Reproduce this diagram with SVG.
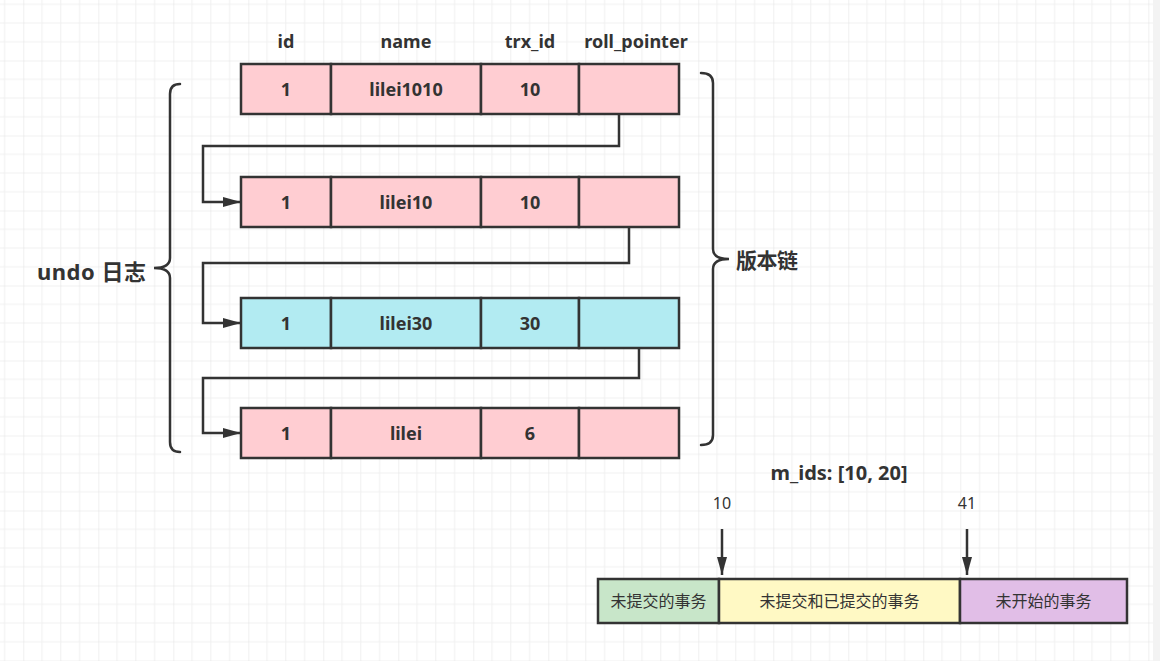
<svg xmlns="http://www.w3.org/2000/svg" width="1160" height="661" viewBox="0 0 1160 661">
<style>
.cell{stroke:#333;stroke-width:2.5}
.pink{fill:#ffcdd2}
.cyan{fill:#b2ebf2}
.t{font-family:"Noto Sans","Noto Sans CJK SC",sans-serif;font-weight:bold;font-size:18px;fill:#333;text-anchor:middle;dominant-baseline:central}
.n{font-family:"Noto Sans","Noto Sans CJK SC",sans-serif;font-size:16px;fill:#333;text-anchor:middle;dominant-baseline:central}
.big{font-family:"Noto Sans","Noto Sans CJK SC",sans-serif;font-weight:bold;font-size:21px;fill:#333;dominant-baseline:central}
.ln{fill:none;stroke:#333;stroke-width:2.5}
.br{fill:none;stroke:#333;stroke-width:2.5;stroke-linecap:round}
</style>
<defs>
<pattern id="grid" patternUnits="userSpaceOnUse" x="23.3" y="60.5" width="75" height="75">
<path d="M18.75,0V75M37.5,0V75M56.25,0V75M0,18.75H75M0,37.5H75M0,56.25H75" stroke="#f0f0f0" stroke-width="1" fill="none"/>
<path d="M0,0V75M0,0H75" stroke="#e2e2e2" stroke-width="1" fill="none"/>
</pattern>
<marker id="arr" markerUnits="userSpaceOnUse" markerWidth="18" markerHeight="10" refX="18" refY="5" orient="auto">
<path d="M0,0L18,5L0,10z" fill="#333"/>
</marker>
</defs>
<rect width="1160" height="661" fill="#fff"/>
<rect width="1160" height="661" fill="url(#grid)"/>
<rect x="1153" y="0" width="7" height="661" fill="#f3f3f3"/>

<g id="headers">
<text class="t" x="286" y="41">id</text>
<text class="t" x="406" y="41">name</text>
<text class="t" x="530" y="41">trx_id</text>
<text class="t" x="636" y="41">roll_pointer</text>
</g>

<g id="row1">
<rect class="cell pink" x="241" y="64" width="90" height="50"/>
<rect class="cell pink" x="331" y="64" width="150" height="50"/>
<rect class="cell pink" x="481" y="64" width="98" height="50"/>
<rect class="cell pink" x="579" y="64" width="100" height="50"/>
<text class="t" x="286" y="89">1</text>
<text class="t" x="406" y="89">lilei1010</text>
<text class="t" x="530" y="89">10</text>
</g>
<g id="row2">
<rect class="cell pink" x="241" y="177" width="90" height="50"/>
<rect class="cell pink" x="331" y="177" width="150" height="50"/>
<rect class="cell pink" x="481" y="177" width="98" height="50"/>
<rect class="cell pink" x="579" y="177" width="100" height="50"/>
<text class="t" x="286" y="202">1</text>
<text class="t" x="406" y="202">lilei10</text>
<text class="t" x="530" y="202">10</text>
</g>
<g id="row3">
<rect class="cell cyan" x="241" y="298" width="90" height="50"/>
<rect class="cell cyan" x="331" y="298" width="150" height="50"/>
<rect class="cell cyan" x="481" y="298" width="98" height="50"/>
<rect class="cell cyan" x="579" y="298" width="100" height="50"/>
<text class="t" x="286" y="323">1</text>
<text class="t" x="406" y="323">lilei30</text>
<text class="t" x="530" y="323">30</text>
</g>
<g id="row4">
<rect class="cell pink" x="241" y="408" width="90" height="50"/>
<rect class="cell pink" x="331" y="408" width="150" height="50"/>
<rect class="cell pink" x="481" y="408" width="98" height="50"/>
<rect class="cell pink" x="579" y="408" width="100" height="50"/>
<text class="t" x="286" y="433">1</text>
<text class="t" x="406" y="433">lilei</text>
<text class="t" x="530" y="433">6</text>
</g>

<g id="connectors">
<path class="ln" d="M619,114V146H203V202H241" marker-end="url(#arr)"/>
<path class="ln" d="M629,227V263H203V323H241" marker-end="url(#arr)"/>
<path class="ln" d="M639,348V378H203V433H241" marker-end="url(#arr)"/>
<path class="ln" d="M722,529V575" marker-end="url(#arr)"/>
<path class="ln" d="M967,529V575" marker-end="url(#arr)"/>
</g>

<g id="undo-brace">
<path class="br" d="M180,84Q170,84 170,94V258Q170,268 154,268Q170,268 170,278V442Q170,452 180,452"/>
<text class="big" x="37" y="271" style="font-size:22px" textLength="109" lengthAdjust="spacing">undo 日志</text>
</g>
<g id="version-brace">
<path class="br" d="M701,73Q713,73 713,83V249Q713,259 729,259Q713,259 713,269V435Q713,445 701,445"/>
<text class="big" x="736" y="260" textLength="62">版本链</text>
</g>

<g id="mids">
<text class="t" x="839" y="472" style="font-size:20px">m_ids: [10, 20]</text>
<text class="n" x="722" y="503">10</text>
<text class="n" x="967" y="503">41</text>
</g>
<g id="bar">
<rect class="cell" x="598" y="579" width="121" height="44" fill="#c8e6c9"/>
<rect class="cell" x="719" y="579" width="241" height="44" fill="#fff9c4"/>
<rect class="cell" x="960" y="579" width="167" height="44" fill="#e1bee7"/>
<text class="n" x="658.5" y="601">未提交的事务</text>
<text class="n" x="839.5" y="601">未提交和已提交的事务</text>
<text class="n" x="1043.5" y="601">未开始的事务</text>
</g>
</svg>
